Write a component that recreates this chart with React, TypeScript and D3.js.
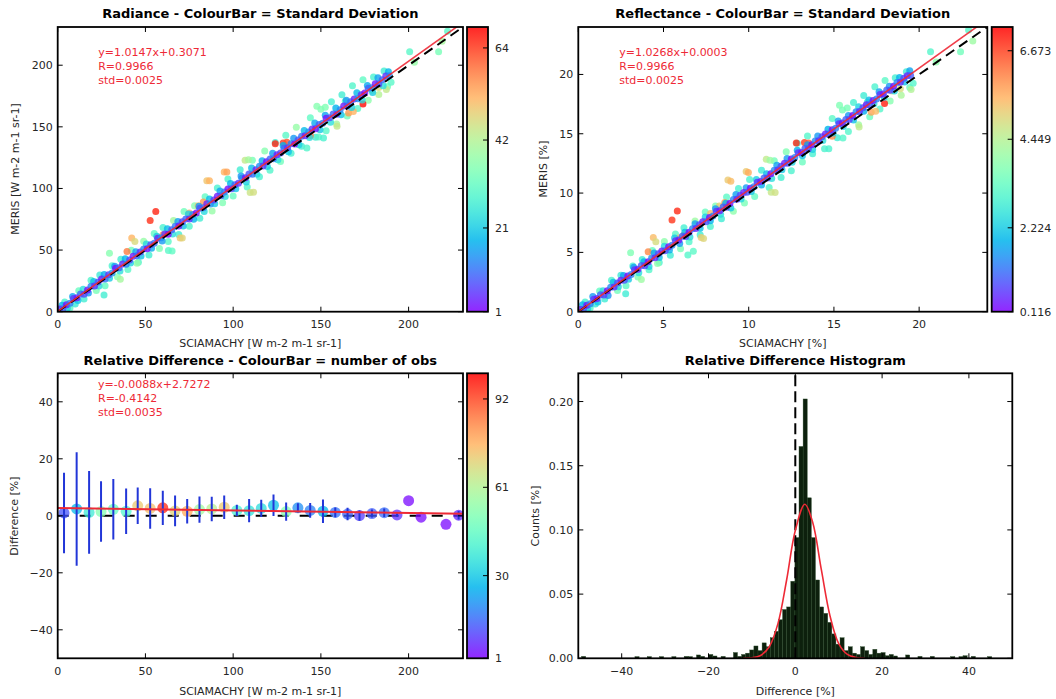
import React from "react";
import * as d3 from "d3";

type Pt = number[];

// ---------- Radiance scatter: [SCIAMACHY, MERIS, std dev] ----------
const radianceCore: Pt[] = [
  [1,2.1,4],[3,2.3,9],[5,5.7,2],[7,6.9,12],[9,10.8,6],[11,11.3,3],[13,14.4,10],[15,14.2,7],[17,17.7,2],[19,20.7,13],
  [21,20.9,5],[23,24.1,8],[25,26.5,3],[27,26.6,11],[29,30.0,6],[31,31.3,14],[33,35.2,2],[35,35.6,9],[37,38.8,4],[39,38.6,12],
  [41,42.0,7],[43,45.0,3],[45,45.3,10],[47,48.5,5],[49,50.8,13],[51,51.0,2],[53,54.4,8],[55,55.6,11],[57,59.6,4],[59,60.0,14],
  [61,63.1,6],[63,62.9,2],[65,66.4,9],[67,69.4,12],[69,69.6,3],[71,72.9,7],[73,75.2,10],[75,75.3,5],[77,78.8,13],[79,80.0,2],
  [81,83.9,8],[83,84.3,11],[85,87.5,4],[87,87.3,14],[89,90.7,6],[91,93.7,3],[93,94.0,9],[95,97.2,12],[97,99.5,2],[99,99.7,7],
  [101,103.1,10],[103,104.3,5],[105,108.2,13],[107,108.7,3],[109,111.8,8],[111,111.6,11],[113,115.1,4],[115,118.1,14],[117,118.3,6],[119,121.6,2],
  [121,123.9,9],[123,124.0,12],[125,127.4,3],[127,128.7,7],[129,132.6,10],[131,133.0,5],[133,136.2,13],[135,136.0,2],[137,139.4,8],[139,142.4,11],
  [141,142.7,4],[143,145.9,14],[145,148.2,6],[147,148.4,3],[149,151.8,9],[151,153.0,12],[153,156.9,2],[155,157.4,7],[157,160.5,10],[159,160.3,5],
  [161,163.8,13],[163,166.8,3],[165,167.0,8],[167,170.3,11],[169,172.6,4],[171,172.7,14],[173,176.1,6],[175,177.4,2],[177,181.3,9],[179,181.7,12],
  [181,184.9,3],[183,184.7,7],[185,188.1,10],[187,191.2,5],[189,191.4,13],
];
const radianceBand: Pt[] = [
  [2.5,5.2,18],[5.5,3.1,22],[8.5,12.4,16],[11.5,9.0,20],[14.5,18.3,24],[17.5,15.1,15],[20.5,24.6,19],[23.5,20.8,23],[26.5,30.2,17],[29.5,27.1,21],
  [32.5,36.8,15],[35.5,33.0,24],[38.5,42.9,18],[41.5,39.6,22],[44.5,48.7,16],[47.5,45.2,20],[50.5,55.0,23],[53.5,51.4,17],[56.5,61.2,21],[59.5,57.3,15],
  [62.5,67.4,19],[65.5,63.1,24],[68.5,73.2,16],[71.5,69.5,20],[74.5,79.3,22],[77.5,75.0,18],[80.5,85.6,15],[83.5,81.2,23],[86.5,91.4,19],[89.5,87.6,21],
  [92.5,97.9,16],[95.5,93.4,24],[98.5,104.1,18],[101.5,99.8,20],[104.5,110.2,15],[107.5,105.3,22],[110.5,116.5,19],[113.5,111.6,23],[116.5,122.4,17],[119.5,117.9,21],
  [122.5,128.6,16],[125.5,123.2,24],[128.5,134.9,18],[131.5,129.7,20],[134.5,140.8,15],[137.5,135.4,22],[140.5,147.1,19],[143.5,141.3,23],[146.5,153.2,17],[149.5,147.6,21],
  [152.5,159.4,16],[155.5,153.8,24],[158.5,165.3,18],[161.5,159.9,20],[164.5,171.5,15],[167.5,165.6,22],[170.5,177.7,19],[173.5,171.8,23],[176.5,183.6,17],[179.5,177.9,21],
  [182.5,189.8,16],[185.5,183.4,24],[188.5,194.6,18],
];
const radianceCloud: Pt[] = [
  [4,7.8,28],[7,3.0,30],[10,6.2,26],[12,16.9,32],[15,10.4,27],[19,25.6,29],[22,17.3,34],[24,29.8,26],[27,21.1,31],[31,37.2,28],
  [34,28.3,36],[36,42.5,27],[40,34.2,30],[42,49.8,33],[46,40.1,29],[49,57.2,38],[52,46.0,27],[55,63.4,31],[58,51.2,35],[60,68.3,28],
  [63,56.9,30],[66,73.9,40],[69,62.6,27],[72,81.2,33],[75,69.4,29],[78,86.0,36],[81,75.8,27],[84,93.3,31],[88,81.7,38],[91,100.4,28],
  [94,88.5,35],[97,107.6,29],[100,93.8,32],[104,115.2,27],[108,101.2,30],[111,122.9,34],[115,109.4,28],[118,130.3,36],[121,114.8,29],[124,137.2,27],
  [127,121.9,33],[130,143.1,30],[133,128.6,28],[136,149.6,38],[139,134.3,27],[142,132.8,29],[144,157.3,31],[147,141.6,27],[150,164.2,35],[153,146.8,30],
  [156,170.4,28],[159,152.3,40],[162,176.1,27],[165,158.7,33],[168,183.3,29],[171,164.9,30],[174,188.2,31],[177,171.6,37],[180,190.5,28],[183,176.2,42],
  [186,195.4,27],[188,182.7,33],[190,186.1,30],
];
const radianceOutliers: Pt[] = [
  [55.9,81.3,66],[52.7,74,65],[42.2,59.7,52],[29.5,47.5,36],[85,106.3,50],[94.9,113.3,52],[109.7,96.7,45],[69.8,59.7,50],[63.1,49.6,30],[26.4,13.6,27],
  [124,136.3,66],[128.5,136.9,64],[106.8,122.8,44],[147.7,166.7,36],[148.7,141.8,30],[151.5,141,28],[174,168.6,68],[165.8,161.3,55],[168.5,162.5,52],[179.1,179.7,42],
  [187.3,180.2,44],[183,182,47],[200.6,210.9,30],[203.3,202.4,38],[217.1,210.9,34],[219.1,219.5,40],[222.2,227.6,30],[39.5,48.8,58],[45.2,39.3,38],[35.7,26.3,40],
  [71,59.7,48],[65.2,49.3,31],[159.2,150.4,44],[152.5,165.9,35],[163.9,170.7,29],[86.5,106.3,52],[96.4,113.3,54],[111.6,97,46],[108.7,123.3,40],[44,57,47],
  [75,80,52],[80,86,49],[83,89,55],[57,60,52],[60,62.5,56],[130.6,137.4,62],[144,143,58],
];

// ---------- Reflectance scatter: [SCIAMACHY %, MERIS %, std dev] ----------
const reflCore: Pt[] = [
  [0.1,0.18,0.4],[0.3,0.2,0.9],[0.5,0.54,0.2],[0.7,0.67,1.3],[0.9,1.06,0.6],[1.1,1.11,0.3],[1.3,1.43,1.0],[1.5,1.41,0.7],[1.7,1.76,0.2],[1.9,2.06,1.4],
  [2.1,2.09,0.5],[2.3,2.41,0.8],[2.5,2.65,0.4],[2.7,2.66,0.9],[2.9,3.01,0.2],[3.1,3.13,1.3],[3.3,3.53,0.6],[3.5,3.57,0.3],[3.7,3.89,1.0],[3.9,3.88,0.7],
  [4.1,4.22,0.2],[4.3,4.53,1.4],[4.5,4.55,0.5],[4.7,4.88,0.8],[4.9,5.11,0.4],[5.1,5.13,0.9],[5.3,5.47,0.2],[5.5,5.6,1.3],[5.7,5.99,0.6],[5.9,6.04,0.3],
  [6.1,6.35,1.0],[6.3,6.34,0.7],[6.5,6.69,0.2],[6.7,6.99,1.4],[6.9,7.02,0.5],[7.1,7.34,0.8],[7.3,7.58,0.4],[7.5,7.59,0.9],[7.7,7.94,0.2],[7.9,8.06,1.3],
  [8.1,8.46,0.6],[8.3,8.5,0.3],[8.5,8.82,1.0],[8.7,8.81,0.7],[8.9,9.15,0.2],[9.1,9.46,1.4],[9.3,9.48,0.5],[9.5,9.81,0.8],[9.7,10.04,0.4],[9.9,10.06,0.9],
  [10.1,10.4,0.2],[10.3,10.53,1.3],[10.5,10.92,0.6],[10.7,10.97,0.3],[10.9,11.28,1.0],[11.1,11.27,0.7],[11.3,11.62,0.2],[11.5,11.92,1.4],[11.7,11.95,0.5],[11.9,12.27,0.8],
  [12.1,12.51,0.4],[12.3,12.52,0.9],[12.5,12.87,0.2],[12.7,12.99,1.3],[12.9,13.39,0.6],[13.1,13.43,0.3],[13.3,13.75,1.0],[13.5,13.74,0.7],[13.7,14.08,0.2],[13.9,14.39,1.4],
  [14.1,14.41,0.5],[14.3,14.74,0.8],[14.5,14.97,0.4],[14.7,14.99,0.9],[14.9,15.33,0.2],[15.1,15.46,1.3],[15.3,15.85,0.6],[15.5,15.9,0.3],[15.7,16.21,1.0],[15.9,16.2,0.7],
  [16.1,16.55,0.2],[16.3,16.85,1.4],[16.5,16.88,0.5],[16.7,17.2,0.8],[16.9,17.44,0.4],[17.1,17.45,0.9],[17.3,17.8,0.2],[17.5,17.92,1.3],[17.7,18.32,0.6],[17.9,18.36,0.3],
  [18.1,18.68,1.0],[18.3,18.66,0.7],[18.5,19.01,0.2],[18.7,19.32,1.4],[18.9,19.34,0.5],[19.1,19.67,0.8],[19.3,19.9,0.4],[19.5,19.92,0.9],
];
const reflBand: Pt[] = [
  [0.25,0.59,1.9],[0.55,0.28,2.3],[0.85,1.28,1.6],[1.15,0.82,2.1],[1.45,1.76,2.5],[1.75,1.36,1.5],[2.05,2.49,2.0],[2.35,2.1,2.4],[2.65,3.05,1.7],[2.95,2.74,2.2],
  [3.25,3.75,1.6],[3.55,3.29,2.5],[3.85,4.22,1.9],[4.15,3.82,2.3],[4.45,4.95,1.7],[4.75,4.57,2.1],[5.05,5.52,2.4],[5.35,5.2,1.8],[5.65,6.21,2.2],[5.95,5.75,1.6],
  [6.25,6.69,2.0],[6.55,6.29,2.5],[6.85,7.42,1.7],[7.15,7.03,2.1],[7.45,7.98,2.3],[7.75,7.67,1.9],[8.05,8.68,1.6],[8.35,8.22,2.5],[8.65,9.15,1.9],[8.95,8.75,2.2],
  [9.25,9.88,1.7],[9.55,9.5,2.4],[9.85,10.45,1.6],[10.15,10.13,2.1],[10.45,11.14,2.3],[10.75,10.68,1.8],[11.05,11.62,2.0],[11.35,11.22,2.5],[11.65,12.35,1.7],[11.95,11.96,2.2],
  [12.25,12.91,1.6],[12.55,12.6,2.4],[12.85,13.61,1.9],[13.15,13.15,2.1],[13.45,14.08,1.7],[13.75,13.68,2.3],[14.05,14.81,1.6],[14.35,14.43,2.5],[14.65,15.38,1.9],[14.95,15.06,2.2],
  [15.25,16.07,1.7],[15.55,15.61,2.4],[15.85,16.55,1.6],[16.15,16.15,2.1],[16.45,17.27,2.3],[16.75,16.89,1.8],[17.05,17.84,2.0],[17.35,17.53,2.5],[17.65,18.54,1.7],[17.95,18.08,2.2],
  [18.25,19.01,1.6],[18.55,18.61,2.4],[18.85,19.74,1.9],[19.15,19.36,2.1],[19.45,20.31,1.7],
];
const reflCloud: Pt[] = [
  [0.4,0.81,2.9],[0.7,0.31,3.1],[1.0,0.64,2.7],[1.25,1.75,3.3],[1.55,1.08,2.8],[1.95,2.65,3.0],[2.3,1.79,3.5],[2.5,3.08,2.7],[2.8,2.18,3.2],[3.2,3.85,2.9],
  [3.5,2.93,3.7],[3.75,4.4,2.8],[4.15,3.54,3.1],[4.35,5.15,3.4],[4.75,4.15,3.0],[5.05,5.92,3.9],[5.4,4.76,2.8],[5.7,6.56,3.2],[6.0,5.3,3.6],[6.2,7.07,2.9],
  [6.5,5.89,3.1],[6.85,7.65,4.1],[7.15,6.48,2.8],[7.45,8.4,3.4],[7.75,7.18,3.0],[8.05,8.9,3.7],[8.4,7.84,2.8],[8.7,9.66,3.2],[9.1,8.46,3.9],[9.4,10.39,2.9],
  [9.75,9.16,3.6],[10.05,11.14,3.0],[10.35,9.71,3.3],[10.75,11.92,2.8],[11.2,10.47,3.1],[11.5,12.72,3.5],[11.9,11.32,2.9],[12.2,13.49,3.7],[12.5,11.88,3.0],[12.85,14.2,2.8],
  [13.15,12.62,3.4],[13.45,14.81,3.1],[13.75,13.31,2.9],[14.7,13.74,3.0],[14.9,16.28,3.2],[15.2,14.66,2.8],[15.5,17.0,3.6],[15.85,15.2,3.1],[16.15,17.64,2.9],[16.45,15.76,4.1],
  [16.75,18.23,2.8],[17.1,16.43,3.4],[17.4,18.97,3.0],[17.7,17.08,3.1],[18.0,19.48,3.2],[18.3,17.76,3.8],[18.6,19.72,2.9],[18.95,18.24,4.3],[19.25,20.22,2.8],[19.45,18.91,3.4],
  [19.65,19.26,3.1],
];
const reflOutliers: Pt[] = [
  [5.81,8.49,6.9],[5.5,7.73,6.8],[4.4,6.26,5.4],[3.07,4.97,3.7],[9.85,11.82,5.2],[8.78,11.1,5.2],[11.32,10.07,4.7],[7.21,6.26,5.2],[6.43,4.77,3.1],[2.78,1.52,2.8],
  [12.79,14.22,6.9],[13.27,14.27,6.7],[11.03,12.86,4.6],[15.33,17.4,3.7],[15.53,14.64,3.1],[14.45,13.74,3.0],[17.97,17.55,7.0],[17.19,16.81,5.7],[17.45,16.9,5.4],[19.53,18.73,4.4],
  [18.4,18.6,4.6],[18.9,18.8,4.9],[20.67,21.91,3.1],[21.0,21.04,3.9],[22.43,21.91,3.5],[23.15,22.82,4.1],[22.9,23.75,3.1],[4.1,5.05,6.0],[4.65,4.07,3.9],[3.7,2.72,4.1],
  [7.35,6.18,5.0],[6.75,5.1,3.2],[16.48,15.57,4.6],[15.78,17.17,3.6],[16.96,17.67,3.0],[8.95,11.0,5.4],[9.98,11.73,5.6],[11.55,10.04,4.8],[11.25,12.76,4.1],[4.55,5.9,4.9],
  [7.76,8.28,5.4],[8.28,8.9,5.1],[8.59,9.21,5.7],[5.9,6.21,5.4],[6.21,6.47,5.8],[13.52,14.22,6.4],[14.9,14.8,6.0],
];

// ---------- Relative difference binned ----------
const binX = [3.6,10.8,17.9,24.7,31.7,39.0,45.6,52.7,59.9,66.9,73.8,80.8,87.8,94.9,102.1,109.1,116.0,123.0,130.2,136.9,143.9,151.2,158.2,165.2,172.0,179.1,186.1,193.4,200.0,207.1,221.3,228.5];
const binMean = [1.0,2.4,1.2,1.5,2.3,1.6,3.5,2.6,2.8,1.7,1.6,2.2,2.4,3.0,1.9,1.8,2.6,3.7,1.5,2.8,1.9,1.6,1.2,0.6,0.1,0.8,1.1,0.3,5.3,-0.5,-3.0,0.2];
const binStd = [14.1,19.9,14.5,10.6,10.6,8.0,6.4,7.1,6.0,5.4,4.3,4.6,4.3,4.1,2.0,4.1,3.0,3.8,3.2,1.6,2.6,4.1,1.7,2.2,1.8,1.4,1.5,0.6,0,0,0,1.5];
const binObs = [12,27,38,52,46,42,72,74,96,70,78,58,62,72,40,36,34,28,52,20,18,26,16,14,9,13,15,7,2,2,2,6];

// ---------- Histogram ----------
const histStart = -49.23;
const histBinWidth = 0.945;
const histCounts = [
  0.0015,0,0,0,0,0,0,0,0,0,
  0,0,0,0.0013,0,0,0.0013,0,0,0.0013,
  0,0,0.0013,0,0,0.0015,0.0013,0,0.0026,0.0015,
  0,0.003,0.0018,0,0.0015,0,0,0.0045,0.0015,0.003,
  0.004,0.0065,0.0096,0.006,0.012,0.009,0.016,0.021,0.03,0.038,
  0.04,0.06,0.094,0.165,0.202,0.125,0.094,0.061,0.04,0.035,
  0.028,0.019,0.011,0.016,0.006,0.009,0.004,0.003,0.009,0.006,
  0.003,0.007,0.004,0.0045,0.002,0.003,0.0018,0,0,0.0026,
  0,0,0.0015,0,0,0.0015,0,0,0,0,
  0.0013,0,0.0013,0.002,0,0.0015,0,0,0,0.0013,
];
const gaussX = [-12,-10,-8,-6,-4,-2,0,2.2,4,6,8,10,12,14,16];
const gaussY = [0,0.0004,0.0022,0.009,0.027,0.061,0.0996,0.12,0.106,0.069,0.033,0.0114,0.003,0.0006,0];

const radFitText = ["y=1.0147x+0.3071", "R=0.9966", "std=0.0025"];
const reflFitText = ["y=1.0268x+0.0003", "R=0.9966", "std=0.0025"];
const diffFitText = ["y=-0.0088x+2.7272", "R=-0.4142", "std=0.0035"];
const radCbarTicks = [1, 21, 42, 64];
const reflCbarTicks = [0.116, 2.224, 4.449, 6.673];
const obsCbarTicks = [1, 30, 61, 92];

const FONT = "DejaVu Sans, Bitstream Vera Sans, sans-serif";
const RED = "#ee2a36";

// matplotlib "rainbow" colormap
function rainbow(t: number) {
  const u = Math.max(0, Math.min(1, t));
  const r = Math.min(1, Math.abs(2 * u - 0.5));
  const g = Math.sin(Math.PI * u);
  const b = Math.cos((Math.PI * u) / 2);
  return d3.rgb(r * 255, g * 255, b * 255).formatHex();
}

function Frame({ xs, ys, xTicks, yTicks, xFmt, yFmt }: any) {
  const [l, r] = xs.range();
  const [b, t] = ys.range();
  return (
    <g fontFamily={FONT} fontSize={11} fill="#262626">
      {xTicks.map((v: number) => (
        <g key={"x" + v}>
          <line x1={xs(v)} x2={xs(v)} y1={b} y2={b - 5} stroke="#000" />
          <line x1={xs(v)} x2={xs(v)} y1={t} y2={t + 5} stroke="#000" />
          <text x={xs(v)} y={b + 16.5} textAnchor="middle">{xFmt(v)}</text>
        </g>
      ))}
      {yTicks.map((v: number) => (
        <g key={"y" + v}>
          <line x1={l} x2={l + 5} y1={ys(v)} y2={ys(v)} stroke="#000" />
          <line x1={r} x2={r - 5} y1={ys(v)} y2={ys(v)} stroke="#000" />
          <text x={l - 5} y={ys(v) + 4} textAnchor="end">{yFmt(v)}</text>
        </g>
      ))}
      <rect x={l} y={t} width={r - l} height={b - t} fill="none" stroke="#000" strokeWidth={1.8} />
    </g>
  );
}

function Colorbar({ id, x, w, top, bottom, domain, ticks, fmt }: any) {
  const s = d3.scaleLinear().domain(domain).range([bottom, top]);
  const stops = d3.range(0, 1.0001, 0.05);
  return (
    <g fontFamily={FONT} fontSize={11} fill="#262626">
      <defs>
        <linearGradient id={id} x1="0" y1="1" x2="0" y2="0">
          {stops.map((t) => (
            <stop key={t} offset={t} stopColor={rainbow(t)} />
          ))}
        </linearGradient>
      </defs>
      <rect x={x} y={top} width={w} height={bottom - top} fill={`url(#${id})`} opacity={0.85} />
      {ticks.map((v: number) => (
        <g key={v}>
          <line x1={x + w} x2={x + w - 5} y1={s(v)} y2={s(v)} stroke="#000" />
          <text x={x + w + 7} y={s(v) + 4}>{fmt(v)}</text>
        </g>
      ))}
      <rect x={x} y={top} width={w} height={bottom - top} fill="none" stroke="#000" strokeWidth={1.8} />
    </g>
  );
}

function ScatterPanel({ id, left, right, top, bottom, max, ticks, groups, cDomain, fit, fitText, cbarX, cbarTicks, cbarFmt, tickFmt }: any) {
  const xs = d3.scaleLinear().domain([0, max]).range([left, right]);
  const ys = d3.scaleLinear().domain([0, max]).range([bottom, top]);
  const cs = (v: number) => rainbow((v - cDomain[0]) / (cDomain[1] - cDomain[0]));
  const fitLine = d3.line<number>().x((v) => xs(v)).y((v) => ys(fit[0] * v + fit[1]));
  return (
    <g>
      <defs>
        <clipPath id={"clip" + id}>
          <rect x={left} y={top} width={right - left} height={bottom - top} />
        </clipPath>
      </defs>
      <g clipPath={`url(#clip${id})`}>
        {groups.map((g: Pt[], gi: number) =>
          g.map((p, i) => (
            <circle key={gi + "-" + i} cx={xs(p[0])} cy={ys(p[1])} r={3.5} fill={cs(p[2])} opacity={0.8} />
          ))
        )}
        <line x1={xs(0)} y1={ys(0)} x2={xs(max)} y2={ys(max)} stroke="#000" strokeWidth={2} strokeDasharray="10,6" />
        <path d={fitLine([0, max]) || ""} stroke={RED} strokeWidth={1.6} fill="none" opacity={0.9} />
      </g>
      <g fontFamily={FONT} fontSize={11} fill={RED}>
        {fitText.map((t: string, i: number) => (
          <text key={t} x={left + (right - left) * 0.1} y={top + 28.5 + i * 14}>{t}</text>
        ))}
      </g>
      <Frame xs={xs} ys={ys} xTicks={ticks} yTicks={ticks} xFmt={tickFmt} yFmt={tickFmt} />
      <Colorbar id={"cb" + id} x={cbarX} w={21} top={top} bottom={bottom} domain={cDomain} ticks={cbarTicks} fmt={cbarFmt} />
    </g>
  );
}

function DiffPanel() {
  const left = 57.7, right = 463, top = 373.3, bottom = 658.3;
  const xs = d3.scaleLinear().domain([0, 231]).range([left, right]);
  const ys = d3.scaleLinear().domain([-50, 50]).range([bottom, top]);
  const cDomain = [1, 101];
  const cs = (v: number) => rainbow((v - cDomain[0]) / (cDomain[1] - cDomain[0]));
  return (
    <g>
      <defs>
        <clipPath id="clipDiff">
          <rect x={left} y={top} width={right - left} height={bottom - top} />
        </clipPath>
      </defs>
      <g clipPath="url(#clipDiff)">
        <line x1={xs(0)} x2={xs(231)} y1={ys(0)} y2={ys(0)} stroke="#000" strokeWidth={2} strokeDasharray="11,11" />
        {binX.map((x, i) => (
          <circle key={"c" + i} cx={xs(x)} cy={ys(binMean[i])} r={5.5} fill={cs(binObs[i])} opacity={0.75} />
        ))}
        {binX.map((x, i) =>
          binStd[i] > 0 ? (
            <line key={"e" + i} x1={xs(x)} x2={xs(x)} y1={ys(binMean[i] - binStd[i])} y2={ys(binMean[i] + binStd[i])} stroke="#2236d8" strokeWidth={2} />
          ) : null
        )}
        <line x1={xs(0)} x2={xs(231)} y1={ys(2.7272)} y2={ys(-0.0088 * 231 + 2.7272)} stroke={RED} strokeWidth={2} />
      </g>
      <g fontFamily={FONT} fontSize={11} fill={RED}>
        {diffFitText.map((t, i) => (
          <text key={t} x={98} y={388 + i * 14}>{t}</text>
        ))}
      </g>
      <Frame xs={xs} ys={ys} xTicks={[0, 50, 100, 150, 200]} yTicks={[-40, -20, 0, 20, 40]} xFmt={d3.format("d")} yFmt={d3.format("d")} />
      <Colorbar id="cbDiff" x={467} w={21} top={top} bottom={bottom} domain={cDomain} ticks={obsCbarTicks} fmt={d3.format("d")} />
    </g>
  );
}

function HistPanel() {
  const left = 578.3, right = 1012.3, top = 373.3, bottom = 658.3;
  const xs = d3.scaleLinear().domain([-50, 50]).range([left, right]);
  const ys = d3.scaleLinear().domain([0, 0.222]).range([bottom, top]);
  const curve = d3
    .line<number>()
    .x((_, i) => xs(gaussX[i]))
    .y((v) => ys(v))
    .curve(d3.curveCatmullRom);
  return (
    <g>
      {histCounts.map((h, k) =>
        h > 0 ? (
          <rect
            key={k}
            x={xs(histStart + k * histBinWidth)}
            y={ys(h)}
            width={xs(histBinWidth) - xs(0)}
            height={ys(0) - ys(h)}
            fill="#0d200d"
            stroke="#2a4a2a"
            strokeWidth={0.4}
          />
        ) : null
      )}
      <line x1={xs(0)} x2={xs(0)} y1={bottom} y2={top} stroke="#000" strokeWidth={2} strokeDasharray="11,5" />
      <path d={curve(gaussY) || ""} fill="none" stroke={RED} strokeWidth={1.6} />
      <Frame xs={xs} ys={ys} xTicks={[-40, -20, 0, 20, 40]} yTicks={[0, 0.05, 0.1, 0.15, 0.2]} xFmt={d3.format("d")} yFmt={d3.format(".2f")} />
    </g>
  );
}

export default function App() {
  const labelStyle = { fontFamily: FONT, fontSize: 11, fill: "#262626" } as any;
  const titleStyle = { fontFamily: FONT, fontSize: 13, fontWeight: "bold", fill: "#000" } as any;
  return (
    <svg width={1056} height={699} style={{ position: "absolute", left: 0, top: 0, background: "#fff" }}>
      <rect width={1056} height={699} fill="#fff" />
      <ScatterPanel
        id="rad" left={57.7} right={463} top={27} bottom={311.7} max={231}
        ticks={[0, 50, 100, 150, 200]} tickFmt={d3.format("d")}
        groups={[radianceCloud, radianceOutliers, radianceBand, radianceCore]}
        cDomain={[1, 69]} fit={[1.0147, 0.3071]} fitText={radFitText}
        cbarX={467} cbarTicks={radCbarTicks} cbarFmt={d3.format("d")}
      />
      <ScatterPanel
        id="refl" left={578.3} right={987.3} top={27} bottom={311.7} max={24}
        ticks={[0, 5, 10, 15, 20]} tickFmt={d3.format("d")}
        groups={[reflCloud, reflOutliers, reflBand, reflCore]}
        cDomain={[0.116, 7.27]} fit={[1.0268, 0.0003]} fitText={reflFitText}
        cbarX={991.7} cbarTicks={reflCbarTicks} cbarFmt={d3.format(".3f")}
      />
      <DiffPanel />
      <HistPanel />

      <text x={260.3} y={17.5} textAnchor="middle" style={titleStyle}>Radiance - ColourBar = Standard Deviation</text>
      <text x={782.8} y={17.5} textAnchor="middle" style={titleStyle}>Reflectance - ColourBar = Standard Deviation</text>
      <text x={260.3} y={365} textAnchor="middle" style={titleStyle}>Relative Difference - ColourBar = number of obs</text>
      <text x={795.3} y={365} textAnchor="middle" style={titleStyle}>Relative Difference Histogram</text>

      <text x={260.3} y={347} textAnchor="middle" style={labelStyle}>SCIAMACHY [W m-2 m-1 sr-1]</text>
      <text x={782.8} y={347} textAnchor="middle" style={labelStyle}>SCIAMACHY [%]</text>
      <text x={260.3} y={695} textAnchor="middle" style={labelStyle}>SCIAMACHY [W m-2 m-1 sr-1]</text>
      <text x={795.3} y={695} textAnchor="middle" style={labelStyle}>Difference [%]</text>

      <text transform="translate(19,169) rotate(-90)" textAnchor="middle" style={labelStyle}>MERIS [W m-2 m-1 sr-1]</text>
      <text transform="translate(547,169) rotate(-90)" textAnchor="middle" style={labelStyle}>MERIS [%]</text>
      <text transform="translate(18,516) rotate(-90)" textAnchor="middle" style={labelStyle}>Difference [%]</text>
      <text transform="translate(539,516) rotate(-90)" textAnchor="middle" style={labelStyle}>Counts [%]</text>
    </svg>
  );
}
